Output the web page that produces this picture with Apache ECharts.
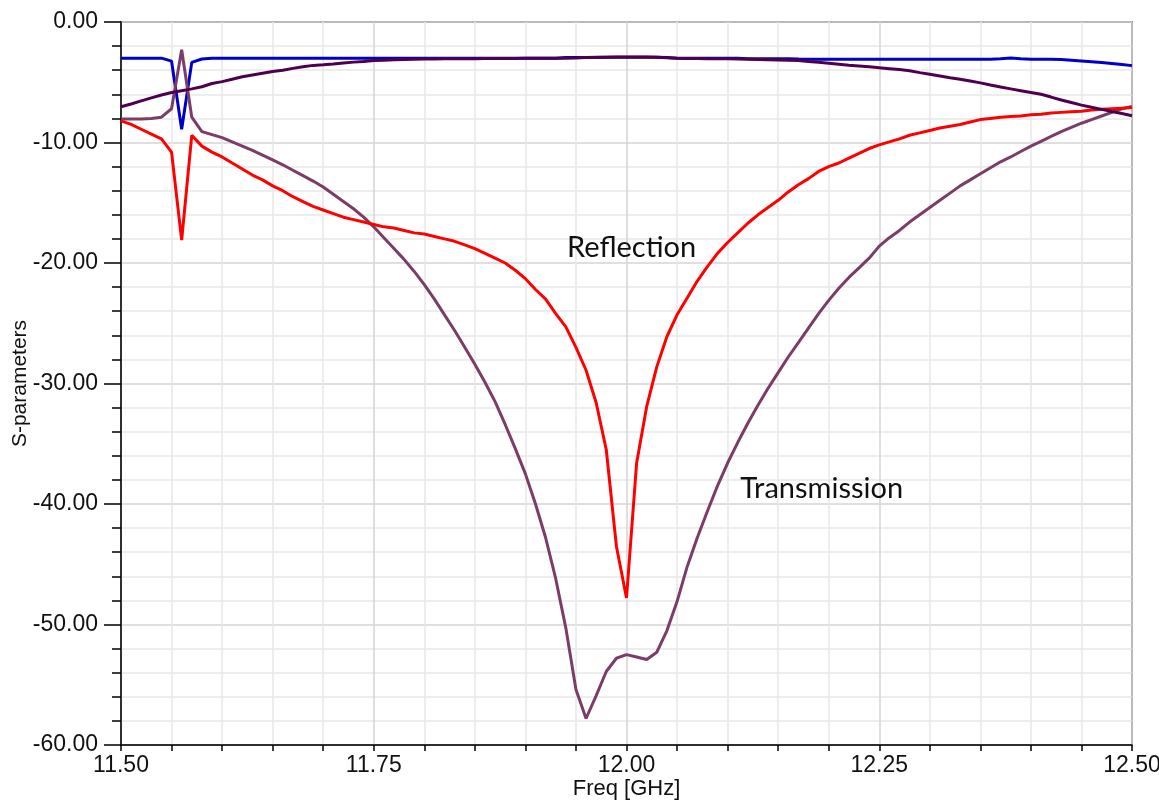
<!DOCTYPE html>
<html>
<head>
<meta charset="utf-8">
<title>S-parameters</title>
<script src="https://cdn.jsdelivr.net/npm/echarts@6/dist/echarts.min.js"></script>
<style>
  html, body { margin: 0; padding: 0; background: #ffffff; }
  #chart { width: 1159px; height: 803px; }
</style>
</head>
<body>
<div id="chart"></div>
<script>
// Frequency sweep, GHz (0.01 GHz step)
const freqGHz = [
  11.50, 11.51, 11.52, 11.53, 11.54, 11.55, 11.56, 11.57, 11.58, 11.59,
  11.60, 11.61, 11.62, 11.63, 11.64, 11.65, 11.66, 11.67, 11.68, 11.69,
  11.70, 11.71, 11.72, 11.73, 11.74, 11.75, 11.76, 11.77, 11.78, 11.79,
  11.80, 11.81, 11.82, 11.83, 11.84, 11.85, 11.86, 11.87, 11.88, 11.89,
  11.90, 11.91, 11.92, 11.93, 11.94, 11.95, 11.96, 11.97, 11.98, 11.99,
  12.00, 12.01, 12.02, 12.03, 12.04, 12.05, 12.06, 12.07, 12.08, 12.09,
  12.10, 12.11, 12.12, 12.13, 12.14, 12.15, 12.16, 12.17, 12.18, 12.19,
  12.20, 12.21, 12.22, 12.23, 12.24, 12.25, 12.26, 12.27, 12.28, 12.29,
  12.30, 12.31, 12.32, 12.33, 12.34, 12.35, 12.36, 12.37, 12.38, 12.39,
  12.40, 12.41, 12.42, 12.43, 12.44, 12.45, 12.46, 12.47, 12.48, 12.49,
  12.50
];

// Reflection magnitude, dB
const reflectionDb = [
  -8.2, -8.5, -8.9, -9.3, -9.7, -10.8, -18.1, -9.4, -10.3, -10.8,
  -11.2, -11.7, -12.2, -12.7, -13.1, -13.6, -14.0, -14.5, -14.9, -15.3,
  -15.6, -15.9, -16.2, -16.4, -16.6, -16.8, -17.0, -17.1, -17.3, -17.5,
  -17.6, -17.8, -18.0, -18.2, -18.5, -18.8, -19.2, -19.6, -20.0, -20.6,
  -21.3, -22.2, -23.0, -24.2, -25.3, -27.0, -28.9, -31.6, -35.5, -43.5,
  -47.8, -36.6, -31.9, -28.6, -26.1, -24.3, -22.9, -21.5, -20.3, -19.2,
  -18.3, -17.5, -16.7, -16.0, -15.4, -14.8, -14.1, -13.5, -13.0, -12.4,
  -12.0, -11.7, -11.3, -10.9, -10.5, -10.2, -9.95, -9.7, -9.4, -9.2,
  -9.0, -8.8, -8.65, -8.5, -8.3, -8.1, -8.0, -7.9, -7.85, -7.8,
  -7.7, -7.65, -7.55, -7.5, -7.45, -7.4, -7.3, -7.25, -7.2, -7.15,
  -7.1
];

// Transmission magnitude, dB
const transmissionDb = [
  -8.05, -8.05, -8.05, -8.0, -7.9, -7.2, -2.3, -7.9, -9.1, -9.35,
  -9.6, -9.95, -10.3, -10.65, -11.05, -11.45, -11.85, -12.3, -12.75, -13.2,
  -13.7, -14.3, -14.9, -15.5, -16.2, -17.0, -17.9, -18.8, -19.7, -20.7,
  -21.8, -23.0, -24.3, -25.6, -27.0, -28.4, -29.9, -31.5, -33.4, -35.4,
  -37.5, -40.0, -42.8, -46.2, -50.3, -55.4, -57.8, -55.9, -53.9, -52.8,
  -52.5, -52.7, -52.9, -52.3, -50.5, -48.1, -45.2, -42.8, -40.6, -38.5,
  -36.6, -34.9, -33.3, -31.8, -30.4, -29.1, -27.8, -26.6, -25.4, -24.2,
  -23.1, -22.1, -21.2, -20.4, -19.6, -18.6, -17.9, -17.3, -16.6, -16.0,
  -15.4, -14.8, -14.2, -13.6, -13.1, -12.6, -12.1, -11.6, -11.2, -10.75,
  -10.3, -9.9, -9.5, -9.1, -8.75, -8.4, -8.1, -7.8, -7.5, -7.2,
  -7.0
];

// Coupling trace, dB (blue)
const couplingADb = [
  -3.0, -3.0, -3.0, -3.0, -3.0, -3.25, -8.9, -3.35, -3.07, -3.0,
  -3.0, -3.0, -3.0, -3.0, -3.0, -3.0, -3.0, -3.0, -3.0, -3.0,
  -3.0, -3.0, -3.0, -3.0, -3.0, -3.0, -3.0, -3.0, -3.0, -3.0,
  -3.0, -3.0, -3.0, -3.0, -3.0, -3.0, -3.0, -3.0, -3.0, -3.0,
  -3.0, -3.0, -3.0, -3.0, -2.95, -2.95, -2.95, -2.95, -2.92, -2.92,
  -2.92, -2.92, -2.92, -2.92, -2.95, -3.0, -3.0, -3.0, -3.0, -3.0,
  -3.0, -3.0, -3.05, -3.05, -3.05, -3.05, -3.05, -3.08, -3.1, -3.1,
  -3.1, -3.1, -3.1, -3.1, -3.1, -3.1, -3.1, -3.1, -3.1, -3.1,
  -3.1, -3.1, -3.1, -3.1, -3.1, -3.1, -3.1, -3.05, -2.98, -3.05,
  -3.1, -3.1, -3.1, -3.12, -3.18, -3.24, -3.3, -3.37, -3.45, -3.53,
  -3.62
];

// Coupling trace, dB (dark purple)
const couplingBDb = [
  -7.03, -6.8, -6.55, -6.3, -6.06, -5.85, -5.7, -5.55, -5.37, -5.1,
  -4.95, -4.75, -4.55, -4.4, -4.25, -4.1, -4.0, -3.85, -3.72, -3.6,
  -3.55, -3.48, -3.4, -3.33, -3.27, -3.2, -3.17, -3.14, -3.12, -3.1,
  -3.08, -3.07, -3.06, -3.05, -3.05, -3.04, -3.03, -3.03, -3.02, -3.02,
  -3.01, -3.01, -3.0, -3.0, -3.0, -2.98, -2.95, -2.93, -2.92, -2.9,
  -2.9, -2.9, -2.9, -2.92, -2.96, -3.0, -3.02, -3.03, -3.04, -3.05,
  -3.06, -3.08, -3.1, -3.12, -3.14, -3.16, -3.18, -3.2, -3.28, -3.35,
  -3.42, -3.5, -3.58, -3.65, -3.72, -3.79, -3.87, -3.95, -4.05, -4.2,
  -4.34, -4.48, -4.62, -4.75, -4.9, -5.05, -5.23, -5.4, -5.55, -5.7,
  -5.85, -6.0, -6.23, -6.47, -6.68, -6.9, -7.08, -7.25, -7.43, -7.6,
  -7.78
];

// Axis settings
const freqTicks = { min: 11.5, max: 12.5, step: 0.25 };
const dbTicks = { min: -60, max: 0, step: 10 };

// Curve annotations: [text, freq, dB]
const annotations = [
  ['Reflection', 12.005, -18.7],
  ['Transmission', 12.193, -38.7]
];

const AXIS_FONT = '"Liberation Sans", Arial, sans-serif';
const NOTE_FONT = 'Lato, "Open Sans", sans-serif';

function pairs(values) {
  return freqGHz.map((f, i) => [f, values[i]]);
}

function lineSeries(name, values, color, width) {
  return {
    name: name,
    type: 'line',
    data: pairs(values),
    showSymbol: false,
    symbol: 'none',
    smooth: false,
    animation: false,
    lineStyle: { color: color, width: width },
    emphasis: { disabled: true }
  };
}

const chart = echarts.init(document.getElementById('chart'), null, { renderer: 'canvas' });

chart.setOption({
  animation: false,
  backgroundColor: '#ffffff',
  grid: {
    left: 121, right: 27, top: 22, bottom: 58,
    containLabel: false,
    outerBoundsMode: 'none',
    show: true,
    borderColor: '#3c3c3c',
    borderWidth: 1.5,
    backgroundColor: 'transparent'
  },
  xAxis: {
    type: 'value',
    min: freqTicks.min,
    max: freqTicks.max,
    interval: freqTicks.step,
    name: 'Freq [GHz]',
    nameLocation: 'middle',
    nameGap: 33,
    nameMoveOverlap: false,
    nameTextStyle: { fontFamily: AXIS_FONT, fontSize: 22, color: '#111' },
    axisLine: { show: true, onZero: false, lineStyle: { color: '#000', width: 1.5 } },
    axisTick: { show: true, inside: false, length: 6, lineStyle: { color: '#000', width: 1.5 } },
    minorTick: { show: true, splitNumber: 5, length: 6, lineStyle: { color: '#000', width: 1.5 } },
    axisLabel: {
      fontFamily: AXIS_FONT, fontSize: 23, color: '#111', margin: 9,
      formatter: v => v.toFixed(2)
    },
    splitLine: { show: true, lineStyle: { color: '#d4d4d4', width: 1.5 } },
    minorSplitLine: { show: true, lineStyle: { color: '#e8e8e8', width: 1.5 } }
  },
  yAxis: {
    type: 'value',
    min: dbTicks.min,
    max: dbTicks.max,
    interval: dbTicks.step,
    name: 'S-parameters',
    nameLocation: 'middle',
    nameGap: 90,
    nameMoveOverlap: false,
    nameTextStyle: { fontFamily: AXIS_FONT, fontSize: 21, color: '#111' },
    axisLine: { show: true, onZero: false, lineStyle: { color: '#000', width: 1.5 } },
    axisTick: { show: true, inside: false, length: 17, lineStyle: { color: '#000', width: 1.5 } },
    minorTick: { show: true, splitNumber: 5, length: 9, lineStyle: { color: '#000', width: 1.5 } },
    axisLabel: {
      fontFamily: AXIS_FONT, fontSize: 23, color: '#111', margin: 23,
      formatter: v => v.toFixed(2)
    },
    splitLine: { show: true, lineStyle: { color: '#d4d4d4', width: 1.5 } },
    minorSplitLine: { show: true, lineStyle: { color: '#e8e8e8', width: 1.5 } }
  },
  series: [
    lineSeries('Coupling A', couplingADb, '#0000c8', 3),
    lineSeries('Transmission', transmissionDb, '#7b3d67', 3),
    lineSeries('Reflection', reflectionDb, '#ff0000', 3),
    lineSeries('Coupling B', couplingBDb, '#4e004f', 3)
  ]
});

// Place the curve labels at their data positions
chart.setOption({
  graphic: annotations.map(([text, f, db]) => {
    const [px, py] = chart.convertToPixel({ xAxisIndex: 0, yAxisIndex: 0 }, [f, db]);
    return {
      type: 'text',
      x: px,
      y: py,
      silent: true,
      style: {
        text: text,
        fontFamily: NOTE_FONT,
        fontSize: 29,
        fill: '#111',
        align: 'center',
        verticalAlign: 'middle'
      }
    };
  })
});
</script>
</body>
</html>
